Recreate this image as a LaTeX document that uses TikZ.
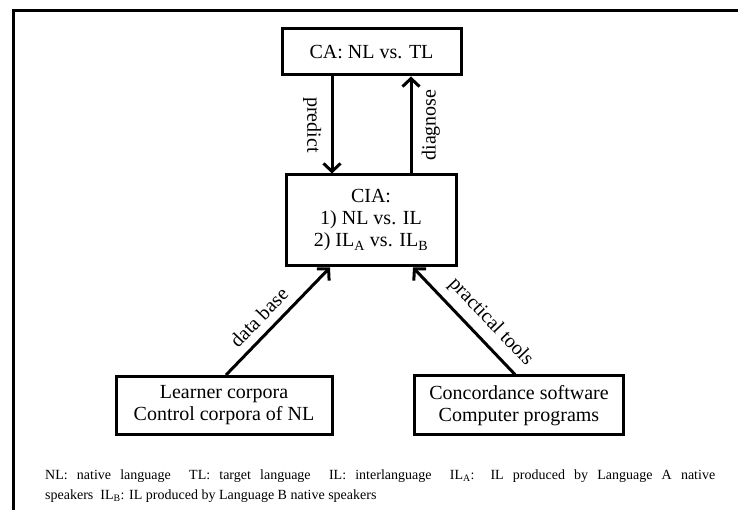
\documentclass[tikz,border=0pt]{standalone}
\usepackage{fontspec}
\setmainfont{Liberation Serif}
\usetikzlibrary{arrows.meta}

\tikzset{
    box/.style={draw, line width=3pt, align=center, inner sep=0pt, font=\fontsize{20}{22}\selectfont},
    arrow/.style={line width=3pt, -{Straight Barb[length=8pt,width=17pt]}},
    tag/.style={font=\fontsize{20}{22}\selectfont, sloped}
}

\begin{document}
\begin{tikzpicture}[x=1pt, y=1pt]
    \useasboundingbox (0,0) rectangle (738,510);

    % Frame of the figure
    \draw [line width=3pt] (13,0) -- (13,499) -- (738,499);

    % Contrastive analysis
    \node (ca) at (371.5,458) [box, minimum width=179pt, minimum height=46pt] {CA: NL vs. TL};

    % Contrastive interlanguage analysis
    \node (cia) at (371,289.5) [box, minimum width=170pt, minimum height=91pt] {CIA:\\1) NL vs. IL\\2) IL\textsubscript{A} vs. IL\textsubscript{B}};

    \draw [arrow] ([xshift=-39.5pt]ca.south) -- node [tag, below=6pt] {predict} ([xshift=-39pt]cia.north);
    \draw [arrow] ([xshift=40pt]cia.north) -- node [tag, below=6pt] {diagnose} ([xshift=39.5pt]ca.south);

        % Where the data come from
        \node (corpora) at (224,104.5) [box, minimum width=216pt, minimum height=58pt] {Learner corpora\\Control corpora of NL};
        \node (tools) at (519,104.5) [box, minimum width=209pt, minimum height=59pt] {Concordance software\\Computer programs};

        \draw [arrow] ([xshift=2pt]corpora.north) -- node [tag, pos=.43, above, inner sep=8pt] {data base} ([xshift=-41pt]cia.south);
        \draw [arrow] ([xshift=-4pt]tools.north) -- node [tag, pos=.37, above, inner sep=8pt] {practical tools} ([xshift=42pt]cia.south);

    % Abbreviations
    \node (key) at (45,24) [anchor=west, align=left, inner sep=0pt, font=\fontsize{14}{20}\selectfont]
        {\makebox[670pt][s]{NL: native language\ \ TL: target language\ \ IL: interlanguage\ \ IL\textsubscript{A}: IL produced by Language A native}\\
         speakers\ \ IL\textsubscript{B}: IL produced by Language B native speakers};
\end{tikzpicture}
\end{document}
